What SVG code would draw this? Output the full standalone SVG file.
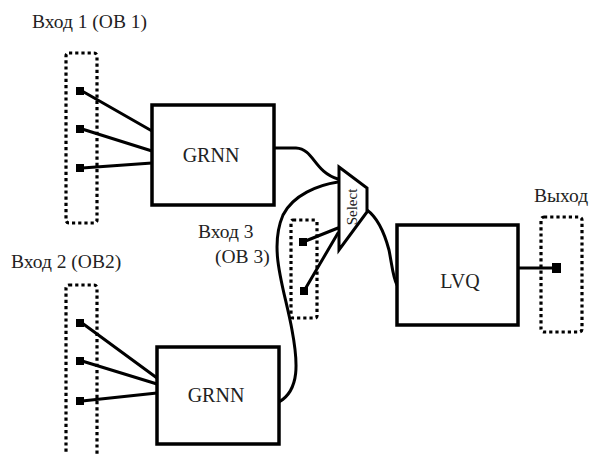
<svg xmlns="http://www.w3.org/2000/svg" width="591" height="454" viewBox="0 0 591 454">
<style>
text{font-family:"Liberation Serif","Times New Roman",serif;fill:#222}
.lbl{font-size:19.5px}
.box{fill:#fff;stroke:#000;stroke-width:3.5}
.dot{fill:none;stroke:#000;stroke-width:3.2;stroke-dasharray:3.2 3}
.w{fill:none;stroke:#000;stroke-width:3;stroke-linecap:round}
.sq{fill:#000}
.bt{font-size:20px;text-anchor:middle}
</style>
<rect width="591" height="454" fill="#fff"/>
<g id="connectors">
<line class="w" x1="82" y1="91" x2="152" y2="131"/>
<line class="w" x1="82" y1="129" x2="152" y2="151"/>
<line class="w" x1="82" y1="168" x2="152" y2="163"/>
<line class="w" x1="82" y1="323" x2="157" y2="378"/>
<line class="w" x1="82" y1="361" x2="157" y2="384"/>
<line class="w" x1="82" y1="401" x2="157" y2="393"/>
<path class="w" d="M274,148 L296,148 C314,149 314,172 338,179"/>
<path class="w" d="M279,402 C300,390 298,362 292,330 C285,290 268,250 283,215 C293,195 318,185 338,182"/>
<line class="w" x1="303" y1="242" x2="338" y2="228"/>
<line class="w" x1="304" y1="291" x2="338" y2="233"/>
<path class="w" d="M367,210 C378,218 385,235 389,250 C392,265 393,278 397,285"/>
<line class="w" x1="518" y1="268" x2="554" y2="268"/>
</g>
<g id="in1">
<text class="lbl" x="32" y="28">Вход 1 (ОВ 1)</text>
<rect class="dot" x="66" y="53" width="31" height="170" rx="3"/>
<rect class="sq" x="76" y="87" width="8" height="8"/>
<rect class="sq" x="76" y="125" width="8" height="8"/>
<rect class="sq" x="76" y="164" width="8" height="8"/>
</g>
<g id="in2">
<text class="lbl" x="11" y="268">Вход 2 (ОВ2)</text>
<rect class="dot" x="66" y="285" width="31" height="180" rx="3"/>
<rect class="sq" x="76" y="319" width="8" height="8"/>
<rect class="sq" x="76" y="357" width="8" height="8"/>
<rect class="sq" x="76" y="397" width="8" height="8"/>
</g>
<g id="grnn1">
<rect class="box" x="152" y="105" width="122" height="100"/>
<text class="bt" x="211" y="162">GRNN</text>
</g>
<g id="grnn2">
<rect class="box" x="157" y="347" width="122" height="97"/>
<text class="bt" x="216" y="402">GRNN</text>
</g>
<g id="in3">
<text class="lbl" x="198" y="238">Вход 3</text>
<text class="lbl" x="215" y="263">(ОВ 3)</text>
<rect class="dot" x="291" y="220" width="26" height="98" rx="2"/>
<rect class="sq" x="299" y="238" width="8" height="8"/>
<rect class="sq" x="300" y="287" width="8" height="8"/>
</g>
<g id="select">
<polygon points="339,167 367,188 367,212 339,250" fill="#fff" stroke="#000" stroke-width="3" stroke-linejoin="miter"/>
<text x="0" y="0" font-size="15" text-anchor="middle" transform="translate(357,207) rotate(-90)">Select</text>
</g>
<g id="lvq">
<rect class="box" x="397" y="225" width="121" height="100"/>
<text class="bt" x="460" y="288">LVQ</text>
</g>
<g id="out">
<text class="lbl" x="534" y="202">Выход</text>
<rect class="dot" x="541" y="217" width="41" height="115" rx="3"/>
<rect class="sq" x="552" y="263" width="9" height="10"/>
</g>
</svg>
